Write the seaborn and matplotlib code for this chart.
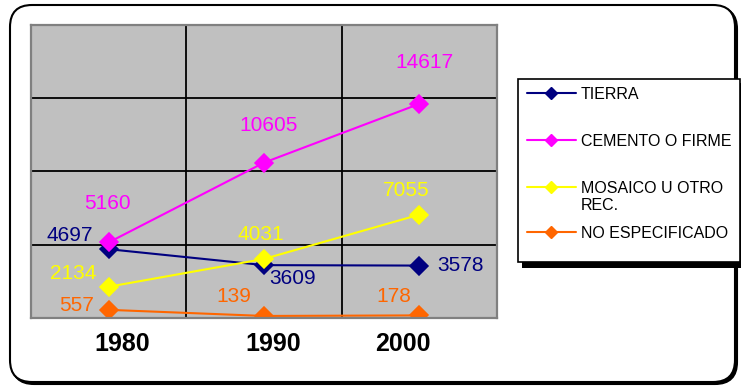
import matplotlib
matplotlib.use("Agg")
import matplotlib.pyplot as plt
from matplotlib.patches import FancyBboxPatch, Rectangle
from matplotlib.lines import Line2D
from matplotlib.transforms import ScaledTranslation
import seaborn as sns
import pandas as pd

# ---- data ----
years = ["1980", "1990", "2000"]
series_names = ["TIERRA", "CEMENTO O FIRME", "MOSAICO U OTRO REC.", "NO ESPECIFICADO"]
legend_labels = ["TIERRA", "CEMENTO O FIRME", "MOSAICO U OTRO\nREC.", "NO ESPECIFICADO"]
tierra = [4697, 3609, 3578]
cemento = [5160, 10605, 14617]
mosaico = [2134, 4031, 7055]
no_especificado = [557, 139, 178]
colors = ["#000080", "#FF00FF", "#FFFF00", "#FF6600"]

values = [tierra, cemento, mosaico, no_especificado]
df = pd.DataFrame(
    [(y, name, v) for name, vals in zip(series_names, values) for y, v in zip(years, vals)],
    columns=["year", "serie", "value"],
)

# label offsets in pixels (dx, dy upward) per series and year
label_offsets = [
    [(-39, 14), (29, -13), (41, 0)],
    [(-1, 39), (5, 37), (5, 41)],
    [(-35, 13), (-3, 24), (-13, 24)],
    [(-32, 4), (-30, 19), (-26, 19)],
]
# horizontal nudges of the year labels, in pixels
tick_shifts = [13.5, 9.5, -16.5]

W, H = 741, 388

sns.set_theme(style="white")
plt.rcParams["font.family"] = ["Liberation Sans", "DejaVu Sans"]

fig = plt.figure(figsize=(W / 100, H / 100), dpi=100)
fig.patch.set_facecolor("white")

# background layer in pixel coordinates (frame + legend box)
bg = fig.add_axes([0, 0, 1, 1])
bg.set_xlim(0, W)
bg.set_ylim(H, 0)
bg.axis("off")

bg.add_patch(FancyBboxPatch((12, 7), 725, 377, boxstyle="round,pad=0,rounding_size=22",
                            facecolor="black", edgecolor="black", lw=1.5))
bg.add_patch(FancyBboxPatch((10, 5), 725, 377, boxstyle="round,pad=0,rounding_size=22",
                            facecolor="white", edgecolor="black", lw=1.5))

# legend box with shadow
bg.add_patch(Rectangle((522, 83), 222, 185, facecolor="black", edgecolor="none"))
bg.add_patch(Rectangle((518, 79), 222, 183, facecolor="white", edgecolor="black", lw=1.2))
legend_rows = [93, 140, 187, 232]
for lab, col, yy in zip(legend_labels, colors, legend_rows):
    bg.add_line(Line2D([527, 576], [yy, yy], color=col, lw=1.5))
    bg.add_line(Line2D([551], [yy], color=col, marker="D", markersize=6))
    bg.text(581, yy - 6, lab, fontsize=11.5, color="black", ha="left", va="top",
            linespacing=1.15)

# ---- main plot ----
ax = fig.add_axes([31 / W, 1 - 318 / H, (497 - 31) / W, (318 - 25) / H])
ax.set_facecolor("#C0C0C0")

sns.pointplot(data=df, x="year", y="value", hue="serie", hue_order=series_names,
              order=years, palette=colors, markers="D", linestyles="-",
              errorbar=None, markersize=9, linewidth=1.5, legend=False, ax=ax)

ax.set_xlim(-0.5, 2.5)
ax.set_ylim(0, 20000)
ax.set_yticks([5000, 10000, 15000])
ax.set_yticklabels([])
ax.set_xticks([0.5, 1.5], minor=True)
ax.grid(True, which="major", axis="y", color="black", lw=1.3)
ax.grid(True, which="minor", axis="x", color="black", lw=1.3)
ax.grid(False, which="major", axis="x")
ax.set_axisbelow(True)
ax.tick_params(axis="both", which="both", length=0)
ax.tick_params(axis="x", pad=10)
for t, sh in zip(ax.get_xticklabels(), tick_shifts):
    t.set_fontsize(18)
    t.set_fontweight("bold")
    t.set_color("black")
    t.set_transform(t.get_transform() + ScaledTranslation(sh / 100, 0, fig.dpi_scale_trans))
ax.set_xlabel("")
ax.set_ylabel("")
for sp in ax.spines.values():
    sp.set_color("#808080")
    sp.set_linewidth(1.6)

# value labels
for vals, col, offs in zip(values, colors, label_offsets):
    for i, (v, (dx, dy)) in enumerate(zip(vals, offs)):
        ax.annotate(f"{v}", (i, v), xytext=(dx, dy), textcoords="offset pixels",
                    ha="center", va="center", fontsize=15, color=col)

fig.savefig("out.png", dpi=100)
